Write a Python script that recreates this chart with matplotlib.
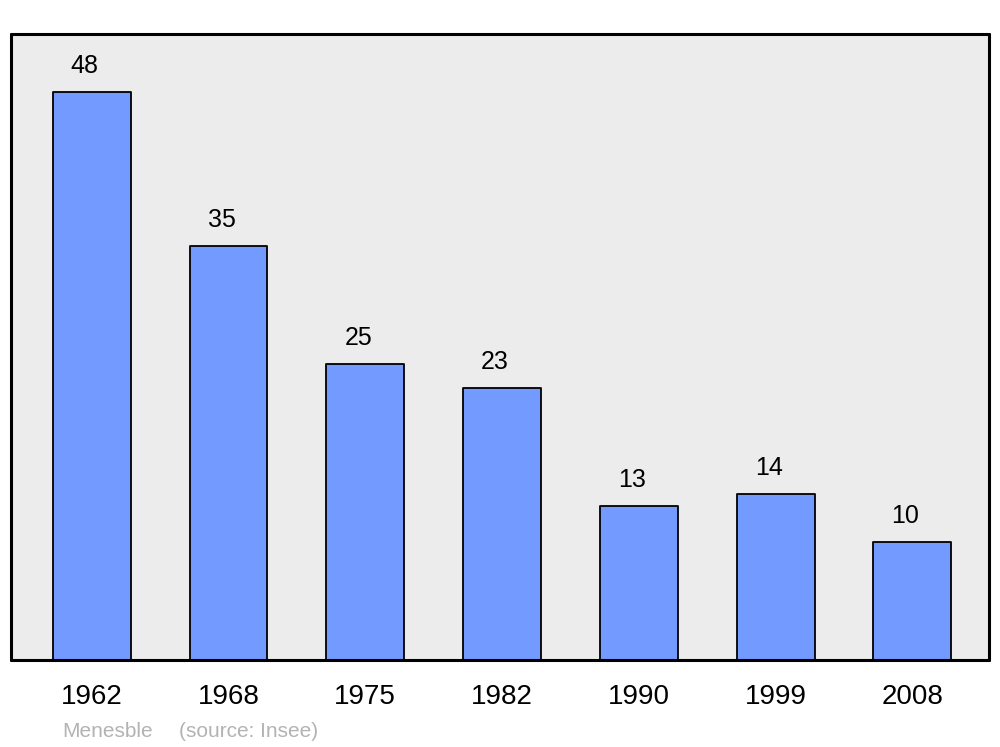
import matplotlib
matplotlib.use("Agg")
import matplotlib.pyplot as plt

years = ["1962", "1968", "1975", "1982", "1990", "1999", "2008"]
population = [48, 35, 25, 23, 13, 14, 10]
commune = "Menesble"
source = "(source: Insee)"

plt.rcParams['font.family'] = ['Liberation Sans', 'DejaVu Sans']

fig = plt.figure(figsize=(10, 7.47), dpi=100)
ax = fig.add_axes([0.011, 0.1165, 0.978, 0.838])
ax.set_facecolor('#ececec')

x = list(range(len(years)))
bars = ax.bar(x, population, width=0.57, color='#729aff', edgecolor='black',
              linewidth=1.3, zorder=2)
for b in bars:
    b.set_joinstyle('round')

for xi, v in zip(x, population):
    ax.annotate(str(v), (xi, v), xytext=(-5, 13.7), textcoords='offset points',
                ha='center', va='baseline', fontsize=18)

ax.set_xlim(-0.59, 6.56)
ax.set_ylim(0, 52.9)
ax.set_xticks(x)
ax.set_xticklabels(years, fontsize=20)
ax.set_yticks([])
ax.tick_params(axis='x', length=0, pad=17.5)
for s in ax.spines.values():
    s.set_linewidth(2.2)
    s.set_capstyle('round')

fig.text(0.062, 0.0134, commune, color='#b3b3b3', fontsize=15, va='baseline')
fig.text(0.179, 0.0134, source, color='#b3b3b3', fontsize=15, va='baseline')

fig.savefig('out.png', dpi=100)
